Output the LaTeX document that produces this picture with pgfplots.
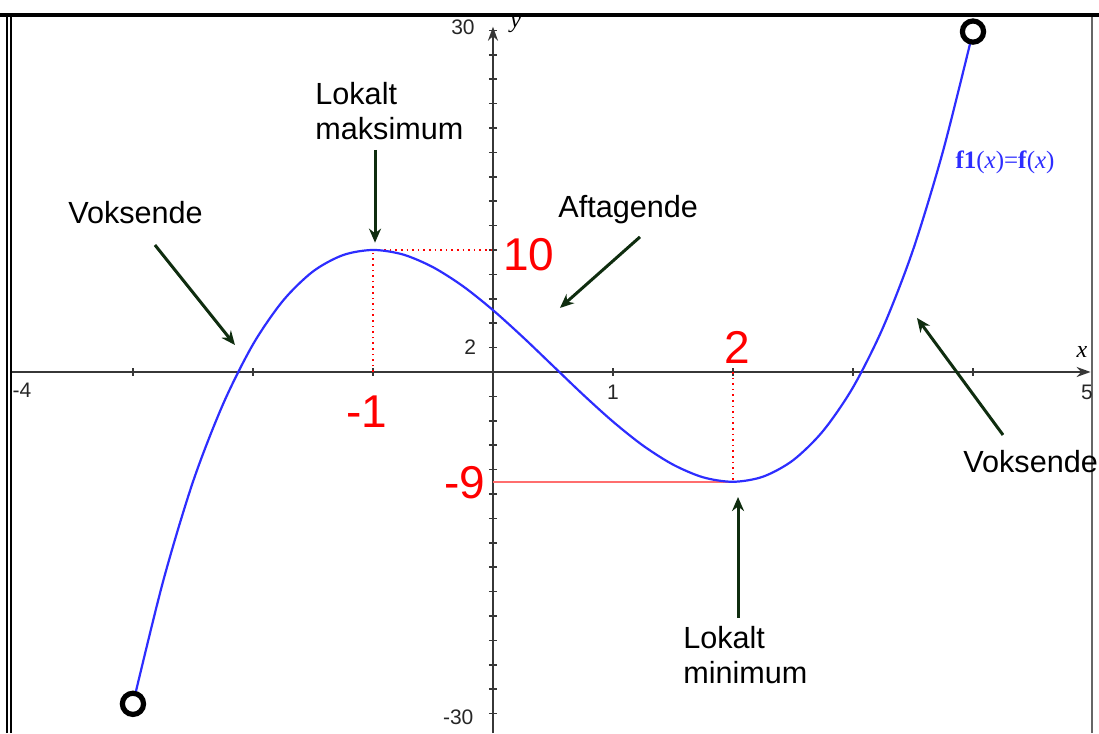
\documentclass[border=0pt]{standalone}
\usepackage{pgfplots}
\pgfplotsset{compat=1.18}
\usepackage{fontspec}
\setmainfont{Liberation Sans}
\newfontfamily\serif{Liberation Serif}
\usetikzlibrary{arrows.meta}

\definecolor{curveblue}{RGB}{45,45,255}
\definecolor{arrowgreen}{RGB}{15,45,15}
\definecolor{markred}{RGB}{255,0,0}
\definecolor{lightred}{RGB}{255,110,110}
\definecolor{axisgray}{RGB}{55,55,55}

\tikzset{
  annot/.style={font=\fontsize{15.3pt}{17.5pt}\selectfont, align=left, anchor=west, inner sep=0pt},
  redlab/.style={font=\fontsize{23pt}{26pt}\selectfont, text=markred, inner sep=0pt},
  ticklab/.style={font=\fontsize{10.5pt}{12pt}\selectfont, text=black!85, inner sep=0pt},
  pointer/.style={arrowgreen, line width=1.5pt, -{Stealth[length=7pt,width=6pt]}},
}

\begin{document}
\begin{tikzpicture}
\begin{axis}[
  x=60pt, y=6.1pt,
  xmin=-4.02, xmax=4.98, ymin=-29.6, ymax=28.3,
  enlargelimits=false,
  axis lines=middle,
  axis line style={axisgray, line width=1pt, -{Stealth[length=7pt,width=5pt]}},
  xtick={-3,...,4}, ytick={-28,-26,...,28},
  xticklabels={,,}, yticklabels={,,},
  tick align=center, major tick length=4pt,
  tick style={axisgray, line width=0.8pt},
  clip=false,
]
% window frame and bounding box
\coordinate (bbll) at (axis cs:-4.108,-29.59);
\coordinate (bbur) at (axis cs:5.05,30.49);
\draw[black, line width=0.7pt] (axis cs:-4.05,-29.6) -- (axis cs:-4.05,29.2);
\draw[black, line width=0.7pt] (axis cs:-4.017,-29.6) -- (axis cs:-4.017,29.2);
\draw[black!60, line width=0.9pt] (axis cs:4.99,-29.6) -- (axis cs:4.99,29.2);
\draw[black, line width=2pt] (axis cs:-4.108,29.25) -- (axis cs:5.05,29.25);

% reference lines at the extrema
\addplot[markred, dotted, line width=0.8pt] coordinates {(-1,0) (-1,10)};
\addplot[markred, dotted, line width=0.8pt] coordinates {(-1,10) (0,10)};
\addplot[markred, dotted, line width=0.8pt] coordinates {(2,0) (2,-9)};
\addplot[lightred, line width=0.8pt] coordinates {(0,-9) (2,-9)};

% f1(x) = f(x)
\addplot[curveblue, line width=1.1pt, smooth] coordinates {
(-3,-27.2) (-2.75,-17.2) (-2.5,-9.0) (-2.25,-2.65) (-2,2.26) (-1.75,5.84)
(-1.5,8.24) (-1.25,9.58) (-1,10.0) (-0.75,9.63) (-0.5,8.59) (-0.25,7.03)
(0,5.07) (0.25,2.85) (0.5,0.50) (0.75,-1.85) (1,-4.07) (1.25,-6.03)
(1.5,-7.59) (1.75,-8.63) (2,-9.0) (2.25,-8.58) (2.5,-7.24) (2.75,-4.84)
(3,-1.26) (3.25,3.64) (3.5,10.0) (3.75,18.1) (4,27.9)
};
% open end points
\addplot[only marks, mark=*, mark size=5.3pt,
  mark options={fill=white, draw=black, line width=2.6pt}]
  coordinates {(-3,-27.2) (4,27.9)};

% axis and tick labels
\node[ticklab] at (axis cs:-0.25,28.28) {30};
\node[ticklab] at (axis cs:-0.29,-28.28) {-30};
\node[ticklab] at (axis cs:-0.19,2.05) {2};
\node[ticklab] at (axis cs:1.0,-1.64) {1};
\node[ticklab] at (axis cs:-3.925,-1.48) {-4};
\node[ticklab] at (axis cs:4.95,-1.64) {5};
\node[font=\serif\itshape\fontsize{12pt}{14pt}\selectfont, inner sep=0pt] at (axis cs:4.908,1.64) {x};
\node[font=\serif\itshape\fontsize{12pt}{14pt}\selectfont, inner sep=0pt] at (axis cs:0.19,28.44) {y};
\node[font=\serif\fontsize{12.5pt}{14pt}\selectfont, text=curveblue, inner sep=0pt] at (axis cs:4.267,17.2)
  {\textbf{f1}(\textit{x})=\textbf{f}(\textit{x})};

% values at the extrema
\node[redlab, anchor=west] at (axis cs:0.083,9.6) {10};
\node[redlab] at (axis cs:-1.05,-3.28) {-1};
\node[redlab] at (axis cs:2.033,2.05) {2};
\node[redlab] at (axis cs:-0.233,-9.1) {-9};

% annotations
\node[annot] at (axis cs:-1.483,21.35) {Lokalt\\maksimum};
\draw[pointer] (axis cs:-0.983,18.2) -- (axis cs:-0.983,10.6);
\node[annot] at (axis cs:-3.542,13.1) {Voksende};
\draw[pointer] (axis cs:-2.817,10.41) -- (axis cs:-2.15,2.21);
\node[annot] at (axis cs:0.542,13.28) {Aftagende};
\draw[pointer] (axis cs:1.225,11.07) -- (axis cs:0.558,5.25);
\node[annot] at (axis cs:3.917,-7.38) {Voksende};
\draw[pointer] (axis cs:4.25,-5.16) -- (axis cs:3.533,4.43);
\node[annot] at (axis cs:1.583,-23.2) {Lokalt\\minimum};
\draw[pointer] (axis cs:2.042,-20.16) -- (axis cs:2.042,-10.25);
\end{axis}
\pgfresetboundingbox
\path[use as bounding box] (bbll) rectangle (bbur);
\end{tikzpicture}
\end{document}
